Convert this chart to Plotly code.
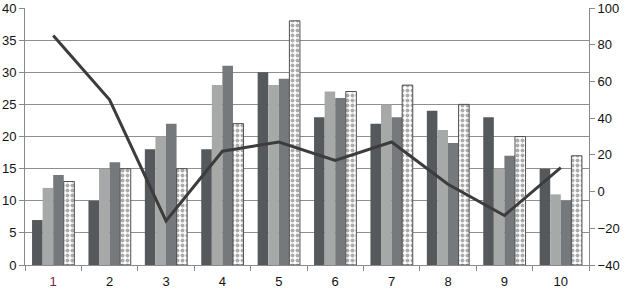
import plotly.graph_objects as go

categories = ["1", "2", "3", "4", "5", "6", "7", "8", "9", "10"]
series_a = [7, 10, 18, 18, 30, 23, 22, 24, 23, 15]
series_b = [12, 15, 20, 28, 28, 27, 25, 21, 15, 11]
series_c = [14, 16, 22, 31, 29, 26, 23, 19, 17, 10]
series_d = [13, 15, 15, 22, 38, 27, 28, 25, 20, 17]
line_vals = [85, 50, -16, 22, 27, 17, 27, 4, -13, 13]
left_ticks = [0, 5, 10, 15, 20, 25, 30, 35, 40]
right_ticks = [-40, -20, 0, 20, 40, 60, 80, 100]

tick_text = ['<span style="color:#7a1f4a">1</span>'] + categories[1:]

fig = go.Figure()
for vals, col in [(series_a, "#55595b"), (series_b, "#a7a9a9"), (series_c, "#76797b")]:
    fig.add_trace(go.Bar(x=categories, y=vals, marker=dict(color=col, line=dict(width=0)),
                         showlegend=False))
fig.add_trace(go.Bar(x=categories, y=series_d,
                     marker=dict(color="white",
                                 line=dict(color="#505050", width=1),
                                 pattern=dict(shape=".", fgcolor="#5a5a5a", bgcolor="white",
                                              size=5, solidity=0.5, fillmode="overlay")),
                     showlegend=False))
fig.add_trace(go.Scatter(x=categories, y=line_vals, yaxis="y2", mode="lines",
                         line=dict(color="#3c3c3c", width=3), showlegend=False))

fig.update_layout(
    width=624, height=288,
    margin=dict(l=25, r=35, t=8, b=23),
    paper_bgcolor="white", plot_bgcolor="white",
    barmode="group", bargap=0.25, bargroupgap=0,
    font=dict(family="Liberation Sans, Arial, sans-serif", size=13, color="#111"),
    xaxis=dict(tickmode="array", tickvals=categories, ticktext=tick_text, automargin=False,
               showline=True, linecolor="#8a8a8a", linewidth=1, ticklabelstandoff=4,
               ticks="outside", tickson="boundaries", ticklen=5, tickcolor="#8a8a8a",
               showgrid=False),
    yaxis=dict(range=[0, 40], tickvals=left_ticks, showline=True, linecolor="#8a8a8a",
               automargin=False, ticks="outside", ticklen=5, tickcolor="#8a8a8a",
               showgrid=True, gridcolor="#8f8f8f", gridwidth=1, zeroline=False),
    yaxis2=dict(range=[-40, 100], tickvals=right_ticks, overlaying="y", side="right",
                automargin=False, showline=True, linecolor="#8a8a8a", ticks="outside", ticklen=5,
                tickcolor="#8a8a8a", showgrid=False, zeroline=False),
)
fig.write_html("out.html", config={"displayModeBar": False},
               post_script="document.body.style.margin='0';document.body.style.overflow='hidden';")
